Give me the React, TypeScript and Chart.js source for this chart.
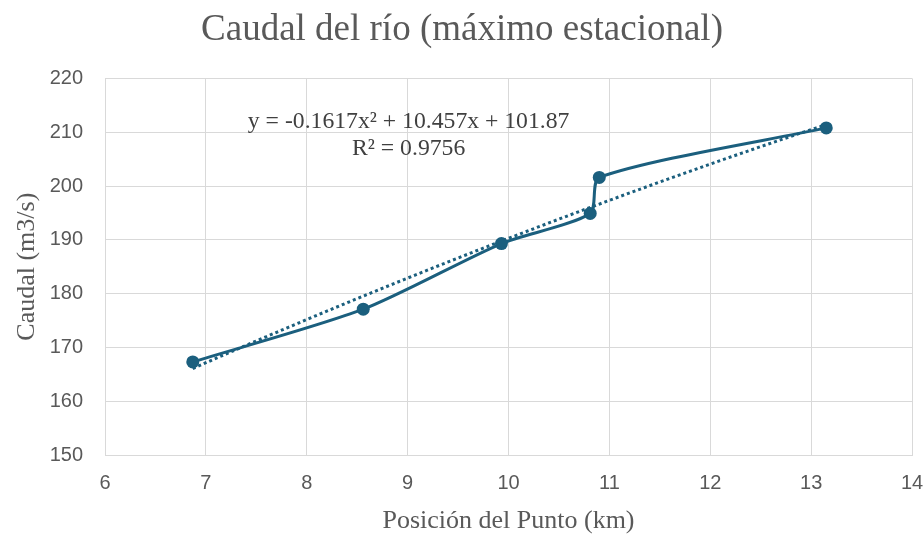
import React, { useEffect, useRef } from "react";
import { Chart, registerables } from "chart.js";

Chart.register(...registerables);

const TITLE = "Caudal del río (máximo estacional)";
const X_TITLE = "Posición del Punto (km)";
const Y_TITLE = "Caudal (m3/s)";

const POSITIONS = [6.87, 8.56, 9.93, 10.81, 10.9, 13.15];
const FLOWS = [167.3, 177.1, 189.3, 194.9, 201.6, 210.8];

// Polynomial trendline (order 2) shown on the chart: a*x^2 + b*x + c
const TREND_COEFFS = [-0.1617, 10.457, 101.87];
const TREND_LABELS = ["y = -0.1617x\u00B2 + 10.457x + 101.87", "R\u00B2 = 0.9756"];
const TREND_LABEL_AT = [9.01, 211.9];

const X_RANGE = [6, 14];
const Y_RANGE = [150, 220];

const LINE_COLOR = "#1b5f7e";
const TEXT_COLOR = "#595959";
const GRID_COLOR = "#d9d9d9";

function trendPoints() {
  const lo = Math.min(...POSITIONS);
  const hi = Math.max(...POSITIONS);
  const n = 60;
  const pts: { x: number; y: number }[] = [];
  for (let i = 0; i <= n; i++) {
    const x = lo + ((hi - lo) * i) / n;
    const y = TREND_COEFFS[0] * x * x + TREND_COEFFS[1] * x + TREND_COEFFS[2];
    pts.push({ x, y });
  }
  return pts;
}

const equationPlugin = {
  id: "equationLabel",
  afterDatasetsDraw(chart: any) {
    const { ctx, scales } = chart;
    const cx = scales.x.getPixelForValue(TREND_LABEL_AT[0]);
    const cy = scales.y.getPixelForValue(TREND_LABEL_AT[1]);
    ctx.save();
    ctx.font = "23.7px 'Liberation Serif', 'Times New Roman', serif";
    ctx.fillStyle = "#404040";
    ctx.textAlign = "center";
    ctx.textBaseline = "middle";
    TREND_LABELS.forEach((t, i) => ctx.fillText(t, cx, cy + i * 27));
    ctx.restore();
  },
};

export default function App() {
  const ref = useRef<HTMLCanvasElement | null>(null);

  useEffect(() => {
    if (!ref.current) return;
    const chart = new Chart(ref.current, {
      type: "scatter",
      data: {
        datasets: [
          {
            label: "Caudal",
            data: POSITIONS.map((x, i) => ({ x, y: FLOWS[i] })),
            showLine: true,
            borderColor: LINE_COLOR,
            backgroundColor: LINE_COLOR,
            borderWidth: 3,
            tension: 0.25,
            pointRadius: 6.5,
            pointHoverRadius: 6.5,
            pointBorderWidth: 0,
            order: 1,
          },
          {
            label: "Tendencia",
            data: trendPoints(),
            showLine: true,
            borderColor: LINE_COLOR,
            borderWidth: 3,
            borderDash: [3, 3],
            borderCapStyle: "butt",
            pointRadius: 0,
            tension: 0,
            order: 2,
          },
        ],
      },
      options: {
        animation: false,
        responsive: true,
        maintainAspectRatio: false,
        layout: { padding: { left: 0, right: 0, top: 0, bottom: 0 } },
        plugins: {
          legend: { display: false },
          tooltip: { enabled: false },
          title: {
            display: true,
            text: TITLE,
            color: TEXT_COLOR,
            font: { family: "'Liberation Serif', 'Times New Roman', serif", size: 37, weight: "normal" },
            padding: { top: 8, bottom: 26 },
          },
        },
        scales: {
          x: {
            type: "linear",
            min: X_RANGE[0],
            max: X_RANGE[1],
            ticks: {
              stepSize: 1,
              color: TEXT_COLOR,
              padding: 16,
              font: { family: "'Liberation Sans', Arial, sans-serif", size: 20 },
            },
            grid: { color: GRID_COLOR, lineWidth: 1, drawTicks: false },
            border: { color: GRID_COLOR },
            title: {
              display: true,
              text: X_TITLE,
              color: TEXT_COLOR,
              font: { family: "'Liberation Serif', 'Times New Roman', serif", size: 26 },
              padding: { top: 0, bottom: 0 },
            },
            afterFit: (s: any) => {
              s.height = 82;
              s.paddingRight = 12;
              s.paddingLeft = 0;
            },
          },
          y: {
            type: "linear",
            min: Y_RANGE[0],
            max: Y_RANGE[1],
            ticks: {
              stepSize: 10,
              color: TEXT_COLOR,
              padding: 22,
              font: { family: "'Liberation Sans', Arial, sans-serif", size: 20 },
            },
            grid: { color: GRID_COLOR, lineWidth: 1, drawTicks: false },
            border: { color: GRID_COLOR },
            title: {
              display: true,
              text: Y_TITLE,
              color: TEXT_COLOR,
              font: { family: "'Liberation Serif', 'Times New Roman', serif", size: 26 },
              padding: { top: 12, bottom: 0 },
            },
            afterFit: (s: any) => {
              s.width = 105;
            },
          },
        },
      },
      plugins: [equationPlugin],
    });
    return () => chart.destroy();
  }, []);

  return (
    <div style={{ position: "fixed", left: 0, top: 0, width: 924, height: 537, background: "#fff" }}>
      <canvas ref={ref} />
    </div>
  );
}
